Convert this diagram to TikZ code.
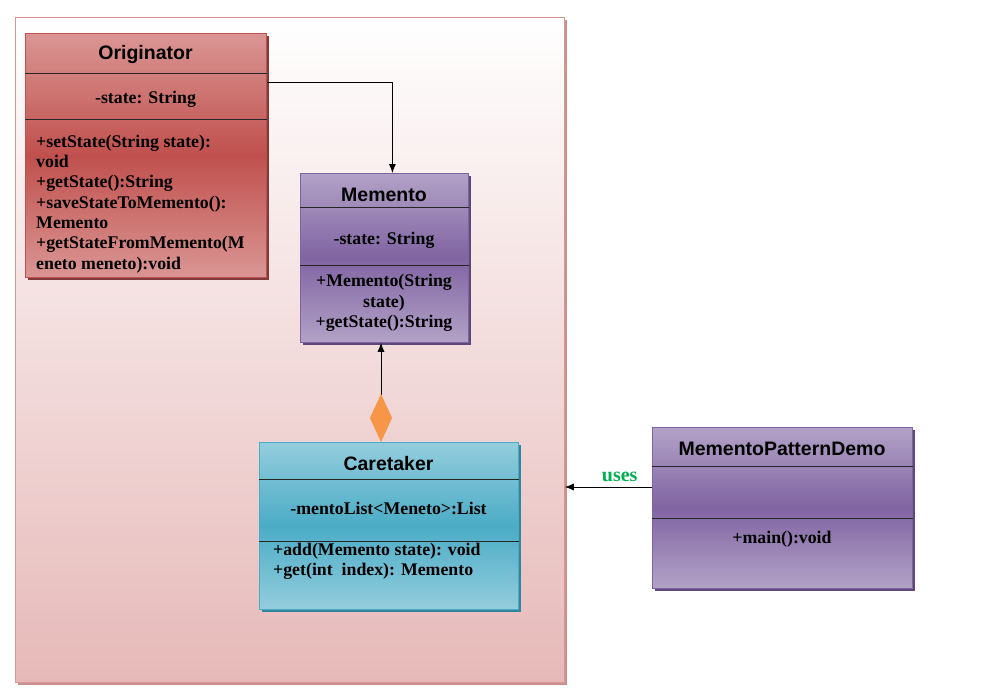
\documentclass[tikz,border=0pt]{standalone}
\usepackage{fontspec}
\setmainfont{Liberation Serif}
\newfontfamily\headfont{Liberation Sans}
\usetikzlibrary{arrows.meta,shadows}

\definecolor{redtop}{HTML}{DA9694}
\definecolor{redmid}{HTML}{C0504D}
\definecolor{redshade}{HTML}{7F3B39}
\definecolor{violettop}{HTML}{B3A2C7}
\definecolor{violetmid}{HTML}{8064A2}
\definecolor{violetshade}{HTML}{5F497A}
\definecolor{aquatop}{HTML}{93CDDD}
\definecolor{aquamid}{HTML}{4BACC6}
\definecolor{aquashade}{HTML}{31859C}
\definecolor{pinkbottom}{HTML}{E6B9B8}
\definecolor{pinkedge}{HTML}{D99694}
\definecolor{pinkshade}{HTML}{C99090}
\definecolor{diamondorange}{HTML}{F79646}
\definecolor{usesgreen}{HTML}{00B050}

\begin{document}
\begin{tikzpicture}[x=1pt,y=-1pt,
    classbox/.style={draw=#1mid, line width=0.8pt, anchor=north west, inner sep=0pt,
        top color=#1top, bottom color=#1top, middle color=#1mid,
        drop shadow={shadow xshift=3pt, shadow yshift=-3pt, opacity=1, fill=#1shade}},
    sepline/.style={draw=black!85, line width=0.9pt},
    headlabel/.style={inner sep=0pt, font=\headfont\bfseries\fontsize{19.5}{22}\selectfont},
    bodylabel/.style={inner sep=0pt, font=\bfseries\fontsize{17.8}{20.3}\selectfont},
    assoc/.style={draw=black, line width=0.8pt, -{Latex[length=9pt,width=7pt]}}]

\fill[white] (0,0) rectangle (988,693);
\useasboundingbox (0,0) rectangle (988,693);

\node[draw=pinkedge, line width=0.8pt, anchor=north west, inner sep=0pt,
    minimum width=549pt, minimum height=665pt, top color=white, bottom color=pinkbottom,
    drop shadow={shadow xshift=3pt, shadow yshift=-3pt, opacity=1, fill=pinkshade}] (frame) at (15,17) {};

\node[classbox=red, minimum width=241pt, minimum height=244pt] (orig) at (25,33) {};
\node[classbox=violet, minimum width=168pt, minimum height=169pt] (memento) at (300,173) {};
\node[classbox=aqua, minimum width=259pt, minimum height=167pt] (care) at (259,442) {};
\node[classbox=violet, minimum width=260pt, minimum height=161pt] (demo) at (652,427) {};

\draw[sepline] (orig.west |- 0,73) -- (orig.east |- 0,73);
\draw[sepline] (orig.west |- 0,119) -- (orig.east |- 0,119);
\draw[sepline] (memento.west |- 0,207) -- (memento.east |- 0,207);
\draw[sepline] (memento.west |- 0,265) -- (memento.east |- 0,265);
\draw[sepline] (care.west |- 0,479) -- (care.east |- 0,479);
\draw[sepline] (care.west |- 0,541) -- (care.east |- 0,541);
\draw[sepline] (demo.west |- 0,466) -- (demo.east |- 0,466);
\draw[sepline] (demo.west |- 0,518) -- (demo.east |- 0,518);

\node[headlabel] (orig-title) at (145.5,55) {Originator};
\node[bodylabel] (orig-attr) at (145.5,99.5) {-state: String};
\node[bodylabel, anchor=west, align=left] (orig-ops) at (36,204)
    {+setState(String state):\\void\\+getState():String\\+saveStateToMemento():\\Memento\\+getStateFromMemento(M\\eneto meneto):void};

\node[headlabel] (memento-title) at (384,194.5) {Memento};
\node[bodylabel] (memento-attr) at (384,240.5) {-state: String};
\node[bodylabel, align=center] (memento-ops) at (384,303) {+Memento(String\\state)\\+getState():String};

\node[headlabel] (care-title) at (388.5,463.5) {Caretaker};
\node[bodylabel] (care-attr) at (388.5,508.5) {-mentoList<Meneto>:List};
\node[bodylabel, anchor=west, align=left] (care-ops) at (273,561) {+add(Memento state): void\\+get(int~ index): Memento};

\node[headlabel] (demo-title) at (782,448.5) {MementoPatternDemo};
\node[bodylabel] (demo-ops) at (782,539.5) {+main():void};

\draw[assoc] (orig.east |- 0,82) -| ([xshift=8pt]memento.north);
\draw[line width=0.8pt, {Diamond[length=48pt,width=22pt,color=diamondorange]}-{Latex[length=9pt,width=7pt]}]
    (care.north -| 381,0) -- (memento.south -| 381,0);
\draw[assoc] (demo.west |- 0,487) -- (frame.east |- 0,487)
    node[pos=0.37, above=5pt, inner sep=0pt, text=usesgreen, font=\bfseries\fontsize{20}{22}\selectfont] (uses-label) {uses};
\end{tikzpicture}
\end{document}
